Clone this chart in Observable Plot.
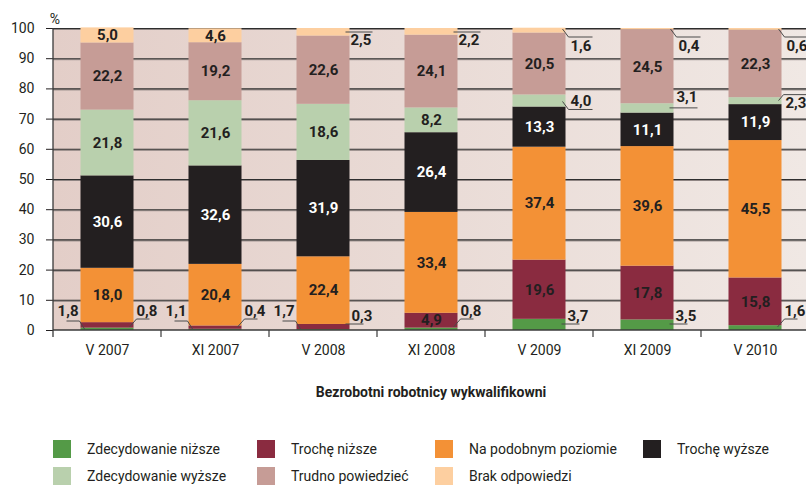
<!DOCTYPE html>
<html><head><meta charset="utf-8">
<script src="https://cdn.jsdelivr.net/npm/d3@7"></script>
<script src="https://cdn.jsdelivr.net/npm/@observablehq/plot@0.6"></script>
<style>
body{margin:0;background:#fff;font-family:Roboto,sans-serif;color:#231f20;width:806px;height:485px;overflow:hidden;position:relative}
#chart{position:absolute;left:0;top:0}
#title{position:absolute;left:53px;width:756px;top:383px;line-height:18px;text-align:center;font-weight:bold;font-size:14px}
#legend{position:absolute;left:53px;top:440px;display:grid;grid-template-columns:204px 178px 208px 160px;grid-auto-rows:27px;font-size:14px}
.item{display:flex;align-items:flex-start;height:18px}
.sw{width:18px;height:18px;flex:none;margin-right:16px}
.item span{line-height:18px;white-space:nowrap}
</style></head><body>
<div id="chart"></div>
<div id="title">Bezrobotni robotnicy wykwalifikowni</div>
<div id="legend"></div>
<script>
const periods = ["V 2007","XI 2007","V 2008","XI 2008","V 2009","XI 2009","V 2010"];
const seriesNames = ["Zdecydowanie niższe","Trochę niższe","Na podobnym poziomie","Trochę wyższe","Zdecydowanie wyższe","Trudno powiedzieć","Brak odpowiedzi"];
const seriesColors = ["#549a47","#8a2b40","#f39136","#231f20","#b9d0ad","#c69c96","#fdcfa0"];
const zdecydowanieNizsze = [0.8,0.4,0.3,0.8,3.7,3.5,1.6];
const trocheNizsze = [1.8,1.1,1.7,4.9,19.6,17.8,15.8];
const naPodobnymPoziomie = [18.0,20.4,22.4,33.4,37.4,39.6,45.5];
const trocheWyzsze = [30.6,32.6,31.9,26.4,13.3,11.1,11.9];
const zdecydowanieWyzsze = [21.8,21.6,18.6,8.2,4.0,3.1,2.3];
const trudnoPowiedziec = [22.2,19.2,22.6,24.1,20.5,24.5,22.3];
const brakOdpowiedzi = [5.0,4.6,2.5,2.2,1.6,0.4,0.6];
const yTicks = [0,10,20,30,40,50,60,70,80,90,100];
const gridValues = [10,20,30,40,50,60,70,80,90,100];
const legendOrder = [0,1,2,3,4,5,6];
// small values labelled outside the bar with leader lines
const outsideLabels = [
  {period:"V 2007", series:"Trochę niższe", leader:"leftDiag"},
  {period:"V 2007", series:"Zdecydowanie niższe", leader:"rightDiag"},
  {period:"XI 2007", series:"Trochę niższe", leader:"leftDiag"},
  {period:"XI 2007", series:"Zdecydowanie niższe", leader:"rightDiag"},
  {period:"V 2008", series:"Trochę niższe", leader:"leftDiag"},
  {period:"V 2008", series:"Zdecydowanie niższe", leader:"rightFlat"},
  {period:"V 2008", series:"Brak odpowiedzi", leader:"rightOver"},
  {period:"XI 2008", series:"Zdecydowanie niższe", leader:"rightDiag"},
  {period:"XI 2008", series:"Brak odpowiedzi", leader:"rightOver"},
  {period:"V 2009", series:"Zdecydowanie niższe", leader:"rightFlat"},
  {period:"V 2009", series:"Zdecydowanie wyższe", leader:"rightDiagUnder"},
  {period:"V 2009", series:"Brak odpowiedzi", leader:"rightDiagOver"},
  {period:"XI 2009", series:"Zdecydowanie niższe", leader:"rightFlat"},
  {period:"XI 2009", series:"Zdecydowanie wyższe", leader:"rightFlatMid"},
  {period:"XI 2009", series:"Brak odpowiedzi", leader:"rightDiagOver"},
  {period:"V 2010", series:"Zdecydowanie niższe", leader:"rightDiag"},
  {period:"V 2010", series:"Zdecydowanie wyższe", leader:"rightDiagUp"},
  {period:"V 2010", series:"Brak odpowiedzi", leader:"rightDiagOver"}
];

// leader line styles (pixel offsets from the bar edge / anchor)
const leaderStyles = {
  leftDiag:      {side:"left",  anchor:"base", pts:[[4,-1],[-1,-9],[-14,-9]], tx:-2, ty:-19},
  rightDiag:     {side:"right", anchor:"base", pts:[[-4,-3],[3,-11],[16,-11]], tx:3, ty:-19},
  rightFlat:     {side:"right", anchor:"base", pts:[[-4,-6],[14,-6]], tx:2, ty:-14},
  rightOver:     {side:"right", anchor:"top",  pts:[[-4,4],[23,4]], tx:1, ty:12},
  rightDiagOver: {side:"right", anchor:"top",  pts:[[-3,1],[3,9],[27,9]], tx:5, ty:18},
  rightDiagUnder:{side:"right", anchor:"mid",  pts:[[-3,1],[3,9],[27,9]], tx:5, ty:0},
  rightFlatMid:  {side:"right", anchor:"mid",  pts:[[-4,0],[24,0]], tx:3, ty:-11},
  rightDiagUp:   {side:"right", anchor:"mid",  pts:[[-3,0],[2,-6],[26,-6]], tx:4, ty:2}
};
const barInset = 27.5;
const fmt = v => v.toFixed(1).replace(".", ",");
const seriesValues = [zdecydowanieNizsze, trocheNizsze, naPodobnymPoziomie, trocheWyzsze, zdecydowanieWyzsze, trudnoPowiedziec, brakOdpowiedzi];

const rows = [];
periods.forEach((p, i) => {
  let acc = 0;
  seriesNames.forEach((s, j) => {
    const v = seriesValues[j][i];
    rows.push({period:p, series:s, j, value:v, y1:acc, y2:acc + v, mid:acc + v / 2});
    acc += v;
  });
});
const outsideSet = new Set(outsideLabels.map(d => d.period + "|" + d.series));
const insideRows = rows.filter(d => !outsideSet.has(d.period + "|" + d.series));

function background(index, scales, values, dims) {
  const g = d3.create("svg:g");
  const grad = g.append("defs").append("linearGradient").attr("id", "bgGrad")
    .attr("x1", 0).attr("x2", 1).attr("y1", 0).attr("y2", 0);
  grad.append("stop").attr("offset", 0).attr("stop-color", "#e3cec8");
  grad.append("stop").attr("offset", 1).attr("stop-color", "#f0e8e4");
  const y0 = scales.y(0), y100 = scales.y(100);
  g.append("rect").attr("x", dims.marginLeft).attr("y", y100)
    .attr("width", dims.width - dims.marginLeft).attr("height", y0 - y100)
    .attr("fill", "url(#bgGrad)");
  return g.node();
}

function overlay(index, scales, values, dims) {
  const g = d3.create("svg:g");
  const xs = scales.x;
  const bw = typeof xs.bandwidth === "function" ? xs.bandwidth() : scales.scales.x.bandwidth;
  const y = scales.y;
  const y0 = y(0), y100 = y(100);
  g.append("line").attr("x1", dims.marginLeft).attr("x2", dims.marginLeft)
    .attr("y1", y100).attr("y2", y0 + 7).attr("stroke", "#3a3a3a").attr("stroke-width", 1.3);
  g.append("line").attr("x1", dims.marginLeft).attr("x2", dims.width)
    .attr("y1", y0).attr("y2", y0).attr("stroke", "#3a3a3a").attr("stroke-width", 1.6);
  periods.forEach((p) => {
    const xb = xs(p) + bw;
    g.append("line").attr("x1", xb).attr("x2", xb).attr("y1", y0).attr("y2", y0 + 7)
      .attr("stroke", "#3a3a3a").attr("stroke-width", 1.2);
  });
  g.append("text").attr("x", dims.marginLeft + 2).attr("y", y100 - 9).attr("dy", "0.35em")
    .attr("font-size", 14).attr("fill", "#231f20").text("%");
  outsideLabels.forEach(o => {
    const r = rows.find(d => d.period === o.period && d.series === o.series);
    const st = leaderStyles[o.leader];
    const ax = st.side === "left" ? xs(o.period) + barInset : xs(o.period) + bw - barInset;
    const ay = st.anchor === "base" ? y0 : st.anchor === "top" ? y100 : y(r.mid);
    g.append("polyline").attr("points", st.pts.map(([dx, dy]) => (ax + dx) + "," + (ay + dy)).join(" "))
      .attr("fill", "none").attr("stroke", "#4a4a4a").attr("stroke-width", 1);
    g.append("text").attr("x", ax + st.tx).attr("y", ay + st.ty).attr("dy", "0.35em")
      .attr("text-anchor", st.side === "left" ? "end" : "start")
      .attr("font-size", 15).attr("font-weight", "bold").attr("fill", "#231f20")
      .text(fmt(r.value));
  });
  return g.node();
}

const chart = Plot.plot({
  width: 806,
  height: 365,
  marginTop: 28,
  marginBottom: 35,
  marginLeft: 53,
  marginRight: 0,
  style: {fontFamily: "Roboto, sans-serif", fontSize: "14px", color: "#231f20", background: "transparent"},
  x: {domain: periods, range: [53, 809], padding: 0, tickSize: 0, tickPadding: 15, label: null},
  y: {domain: [0, 100], ticks: yTicks, tickSize: 7, tickPadding: 12, label: null},
  color: {domain: seriesNames, range: seriesColors},
  marks: [
    background,
    Plot.ruleY(gridValues, {stroke: "#8f8583", strokeWidth: 1, dy: 1}),
    Plot.ruleY(gridValues, {stroke: "#2e2e2e", strokeWidth: 1.1}),
    Plot.barY(rows, {x: "period", y1: "y1", y2: "y2", fill: "series", insetLeft: barInset, insetRight: barInset}),
    Plot.text(insideRows.filter(d => d.j !== 3), {x: "period", y: "mid", text: d => fmt(d.value), fill: "#231f20", fontSize: 15, fontWeight: "bold"}),
    Plot.text(insideRows.filter(d => d.j === 3), {x: "period", y: "mid", text: d => fmt(d.value), fill: "white", fontSize: 15, fontWeight: "bold"}),
    overlay
  ]
});
document.getElementById("chart").appendChild(chart);

const legend = document.getElementById("legend");
legendOrder.forEach(j => {
  const it = document.createElement("div");
  it.className = "item";
  const sw = document.createElement("div");
  sw.className = "sw";
  sw.style.background = seriesColors[j];
  const sp = document.createElement("span");
  sp.textContent = seriesNames[j];
  it.appendChild(sw); it.appendChild(sp);
  legend.appendChild(it);
});
</script>
</body></html>
